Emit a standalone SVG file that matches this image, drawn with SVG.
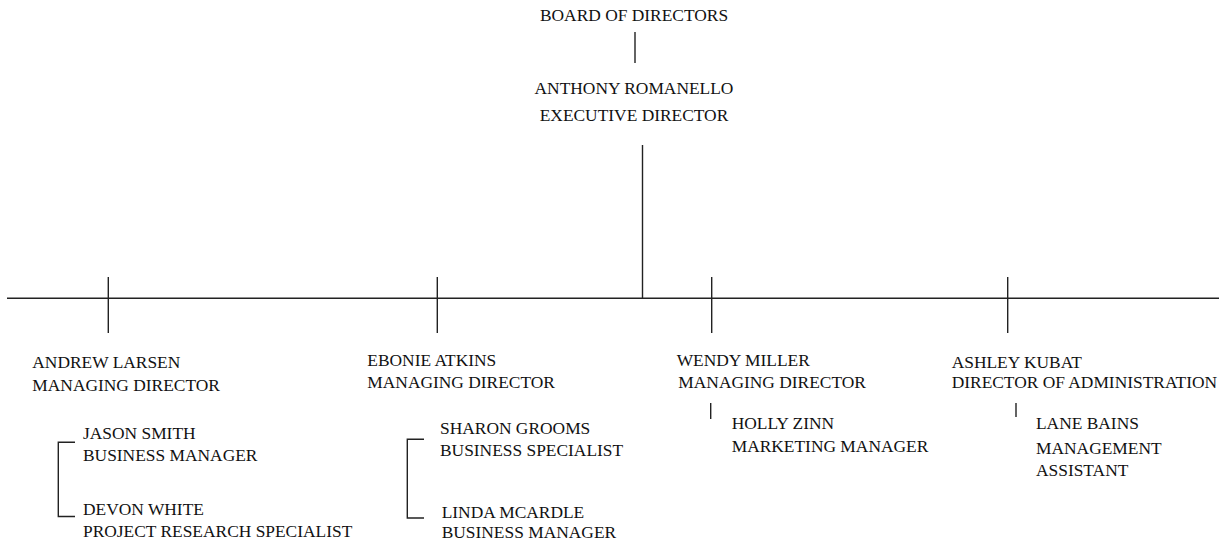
<svg xmlns="http://www.w3.org/2000/svg" width="1226" height="546" viewBox="0 0 1226 546">
<style>
text{font-family:"Liberation Serif","Times New Roman",serif;font-size:17.4px;fill:#111}
.c{text-anchor:middle}
line,path{stroke:#222;stroke-width:1.4;fill:none}
</style>
<rect width="1226" height="546" fill="#fff"/>
<g id="connectors">
<line x1="635" y1="32" x2="635" y2="63"/>
<line x1="642.5" y1="145" x2="642.5" y2="298"/>
<line x1="7" y1="298.3" x2="1219" y2="298.3"/>
<line x1="108.3" y1="277" x2="108.3" y2="333"/>
<line x1="437.3" y1="277" x2="437.3" y2="333"/>
<line x1="711.7" y1="277" x2="711.7" y2="333"/>
<line x1="1007.7" y1="277" x2="1007.7" y2="333"/>
<path d="M75 442.3H58.3V516.5H75"/>
<path d="M424 439.3H407.3V518H424"/>
<line x1="710.7" y1="403" x2="710.7" y2="419"/>
<line x1="1016" y1="403" x2="1016" y2="417"/>
</g>
<g id="board"><text class="c" x="634" y="21">BOARD OF DIRECTORS</text></g>
<g id="romanello"><text class="c" x="634" y="94.3">ANTHONY ROMANELLO</text><text class="c" x="634" y="120.5">EXECUTIVE DIRECTOR</text></g>
<g id="larsen"><text x="32.3" y="368.3">ANDREW LARSEN</text><text x="32.3" y="390.5">MANAGING DIRECTOR</text></g>
<g id="smith"><text x="83" y="438.5">JASON SMITH</text><text x="83" y="460.7">BUSINESS MANAGER</text></g>
<g id="white"><text x="83" y="515">DEVON WHITE</text><text x="83" y="536.7">PROJECT RESEARCH SPECIALIST</text></g>
<g id="atkins"><text x="367.3" y="366">EBONIE ATKINS</text><text x="367.3" y="388.3">MANAGING DIRECTOR</text></g>
<g id="grooms"><text x="440" y="434">SHARON GROOMS</text><text x="440" y="455.7">BUSINESS SPECIALIST</text></g>
<g id="mcardle"><text x="441.7" y="518.3">LINDA MCARDLE</text><text x="441.7" y="538.3">BUSINESS MANAGER</text></g>
<g id="miller"><text x="676.7" y="366">WENDY MILLER</text><text x="678.3" y="388.3">MANAGING DIRECTOR</text></g>
<g id="zinn"><text x="731.7" y="429.3">HOLLY ZINN</text><text x="731.7" y="451.7">MARKETING MANAGER</text></g>
<g id="kubat"><text x="951.7" y="368.3">ASHLEY KUBAT</text><text x="951.7" y="388.3">DIRECTOR OF ADMINISTRATION</text></g>
<g id="bains"><text x="1036" y="429.3">LANE BAINS</text><text x="1036" y="454.3">MANAGEMENT</text><text x="1036" y="476">ASSISTANT</text></g>
</svg>
